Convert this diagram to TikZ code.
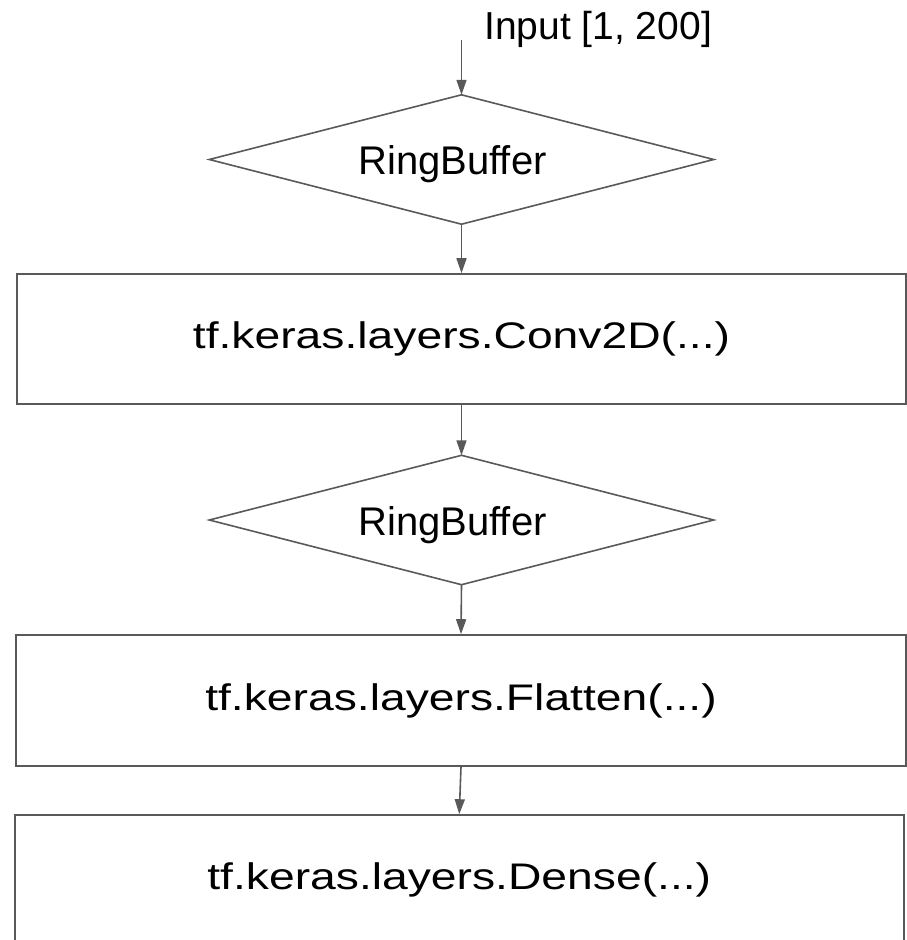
\documentclass[tikz,border=0pt]{standalone}
\usepackage{fontspec}
\setmainfont{Liberation Sans}
\newfontfamily\widesans[FakeStretch=1.25]{Liberation Sans}
\usetikzlibrary{arrows.meta,calc}

\definecolor{edgegray}{HTML}{595959}

\tikzset{
  x=1pt, y=1pt,
  layerbox/.style={draw=edgegray, line width=1.6pt, fill=white,
    minimum width=889pt, minimum height=130pt, inner sep=0pt,
    font=\widesans\fontsize{37}{42}\selectfont},
  bufferslot/.style={minimum width=504pt, minimum height=129pt, inner sep=0pt},
  buffertext/.style={inner sep=0pt, anchor=base, font=\fontsize{40}{44}\selectfont},
  rhomb/.style={draw=edgegray, line width=1.6pt, line join=miter},
  flow/.style={draw=edgegray, line width=1.6pt,
    -{Triangle[length=15pt,width=10pt]}},
}

\begin{document}
\begin{tikzpicture}
  \useasboundingbox (0,0) rectangle (907,-940);
  \clip (0,0) rectangle (907,-940);

  % input label and its entry point
  \node[anchor=base west, inner sep=0pt, font=\fontsize{39}{44}\selectfont]
    (inlabel) at (484,-39.5) {Input [1, 200]};
  \coordinate (instart) at (461.5,-40);

  % first ring buffer
  \node[bufferslot] (rb1) at (461.5,-159.5) {};
  \draw[rhomb] (rb1.north) -- (rb1.east) -- (rb1.south) -- (rb1.west) -- cycle;
  \node[buffertext] (rb1text) at ($(rb1.center)+(-9,-15)$) {RingBuffer};

  % convolution layer
  \node[layerbox] (conv) at (461.5,-339) {tf.keras.layers.Conv2D(...)};

  % second ring buffer
  \node[bufferslot] (rb2) at (461.5,-520) {};
  \draw[rhomb] (rb2.north) -- (rb2.east) -- (rb2.south) -- (rb2.west) -- cycle;
  \node[buffertext] (rb2text) at ($(rb2.center)+(-9,-15)$) {RingBuffer};

  % flatten and dense layers
  \node[layerbox, minimum width=890pt, minimum height=131pt]
    (flat) at (461,-700.5) {tf.keras.layers.Flatten(...)};
  \node[layerbox] (dense) at (459.25,-880) {tf.keras.layers.Dense(...)};

  % connectors
  \draw[flow] (instart) -- (rb1.north);
  \draw[flow] (rb1.south) -- (conv.north);
  \draw[flow] (conv.south) -- (rb2.north);
  \draw[flow] (rb2.south) -- (flat.north);
  \draw[flow] (flat.south) -- (dense.north);
\end{tikzpicture}
\end{document}
